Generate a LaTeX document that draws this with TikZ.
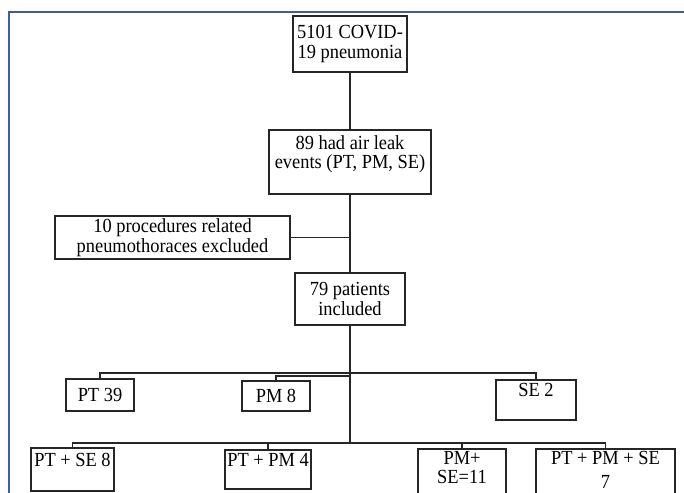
\documentclass[tikz,border=0pt]{standalone}
\usepackage{fontspec}
\setmainfont{Liberation Serif}[FakeStretch=0.92]
\usepackage{xcolor}
\definecolor{frame-blue}{RGB}{60,92,170}

\begin{document}
\begin{tikzpicture}[x=1pt, y=-1pt,
    box/.style={rectangle, draw=black!85, line width=1.2pt, inner sep=0pt, align=center, font=\fontsize{20}{19.5}\selectfont},
    link/.style={draw=black!85, line width=1.4pt}]

    \clip (0,0) rectangle (684,492);

    % Page frame
    \draw[frame-blue, line width=1.5pt] (9,520) |- (700,12);

    % Main flow
    \node[box, minimum width=114, minimum height=56] (covid) at (350,44) {5101 COVID-\\19 pneumonia};
    \node[box, minimum width=162, minimum height=64] (airleak) at (350,162) {89 had air leak\\events (PT, PM, SE)\\\mbox{}};
    \node[box, minimum width=235, minimum height=43] (excluded) at (172.5,237.5) {10 procedures related\\pneumothoraces excluded};
    \node[box, minimum width=110, minimum height=52] (included) at (350,299) {79 patients\\included};

    % Single events
    \node[box, minimum width=68, minimum height=32] (pt) at (100,395) {PT 39};
    \node[box, minimum width=68, minimum height=30] (pm) at (276,396) {PM 8};
    \node[box, minimum width=80, minimum height=40] (se) at (536,400) {SE 2\\\mbox{}};

    % Combined events
    \node[box, minimum width=83, minimum height=43] (ptse) at (72.5,469.5) {PT + SE 8\\\mbox{}};
    \node[box, minimum width=86, minimum height=39] (ptpm) at (268,469.5) {PT + PM 4\\\mbox{}};
    \node[box, minimum width=88, minimum height=56] (pmse) at (462,477) {PM+\\SE=11\\\mbox{}};
    \node[box, minimum width=139, minimum height=66] (ptpmse) at (605.5,482) {PT + PM + SE\\[4.5pt]7\\[4.5pt]\mbox{}};

    % Split points
    \coordinate (split) at (350,373);
    \coordinate (splitb) at (350,376);
    \coordinate (split2) at (350,443);

    % Connectors
    \draw[link] (covid) -- (airleak);
    \draw[link] (airleak) -- (included);
    \draw[link] (excluded.east) -- (excluded.east -| airleak.south);
    \draw[link, line width=2pt] (included) -- (split2);
    \draw[link] (pt.north) |- (split) -| (se.north);
    \draw[link] (pm.north) |- (splitb);
    \draw[link] (ptse.north) |- (split2) -| (ptpmse.north);
    \draw[link] (ptpm.north) -- (ptpm.north |- split2);
    \draw[link] (pmse.north) -- (pmse.north |- split2);
\end{tikzpicture}
\end{document}
